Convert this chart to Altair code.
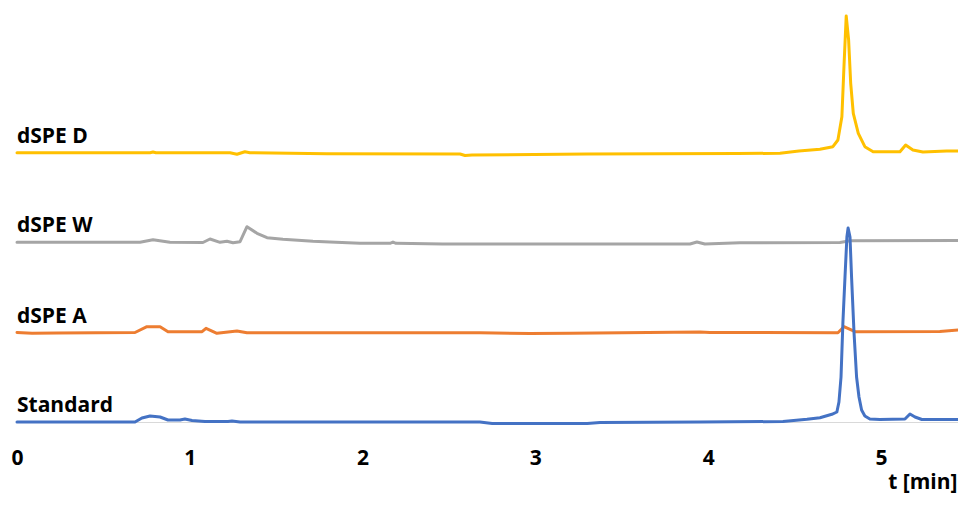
import altair as alt
import pandas as pd

series = ["Standard", "dSPE A", "dSPE W", "dSPE D"]
colors = ["#4472C4", "#ED7D31", "#A5A5A5", "#FFC000"]
x_ticks = [0, 1, 2, 3, 4, 5]
label_y = [10, 98.7, 190.3, 278.7]

std_t = [0, 0.683, 0.723, 0.770, 0.828, 0.874, 0.943, 0.972, 1.013, 1.088, 1.221, 1.244, 1.291,
         2.679, 2.750, 3.300, 3.374, 3.953, 4.433, 4.572, 4.647, 4.716, 4.745, 4.757, 4.769, 4.780,
         4.792, 4.803, 4.810, 4.821, 4.830, 4.844, 4.859, 4.873, 4.888, 4.907, 4.936, 4.994,
         5.139, 5.168, 5.197, 5.237, 5.486]
std_y = [0, 0, 4, 6, 5, 2, 2, 3, 1.5, 0.5, 0.5, 1, 0,
         0, -1.5, -1.5, -0.5, 0, 0.5, 2.7, 4.3, 7.7, 10, 20, 45, 100,
         145, 185, 194, 185, 145, 90, 45, 25, 12, 6, 3, 2.5,
         3, 8, 5, 2.5, 2.5]

a_t = [0, 0.087, 0.231, 0.683, 0.752, 0.828, 0.874, 1.071, 1.094, 1.157, 1.273, 1.331,
       2.679, 2.969, 3.200, 3.953, 4.010, 4.751, 4.786, 4.850, 5.341, 5.486]
a_y = [89.5, 88.8, 89, 89.5, 95.3, 95.3, 90.3, 90.3, 93.7, 88.7, 91, 89.3,
       89.3, 88.5, 88.8, 90, 89.5, 89.3, 95.3, 90.3, 90.5, 92.7]

w_t = [0, 0.712, 0.787, 0.885, 1.076, 1.117, 1.175, 1.215, 1.250, 1.291, 1.331, 1.389, 1.447,
       1.539, 1.713, 1.811, 1.985, 2.159, 2.176, 2.193, 2.465, 3.895, 3.935, 3.981, 4.184,
       4.763, 4.821, 5.486]
w_y = [179.7, 179.7, 182.3, 179.7, 179.5, 183, 179.7, 180.7, 179.3, 180.3, 195.3, 188.7, 184.3,
       182.7, 180.7, 180, 178.7, 178.7, 180, 178.7, 178, 178, 180, 178, 179.3,
       179.5, 181.3, 181.5]

d_t = [0, 0.770, 0.787, 0.804, 1.233, 1.273, 1.319, 1.348, 1.794, 2.564, 2.593, 2.633, 3.299,
       4.167, 4.416, 4.525, 4.647, 4.722, 4.751, 4.774, 4.786, 4.799, 4.813, 4.825, 4.840,
       4.869, 4.907, 4.955, 5.110, 5.143, 5.185, 5.243, 5.380, 5.486]
d_y = [269.3, 269.3, 270, 269.3, 269.3, 267.7, 270.3, 269.3, 268.3, 268, 266.5, 267, 268,
       268.5, 268.7, 271, 272.7, 275.3, 282, 305.3, 355.3, 406, 382, 338.7, 308.7,
       288.7, 275.3, 270.3, 270.3, 277, 272, 270, 271, 271]

rows = []
for name, ts, ys in zip(series, [std_t, a_t, w_t, d_t], [std_y, a_y, w_y, d_y]):
    for i, (t, y) in enumerate(zip(ts, ys)):
        rows.append({"series": name, "t": t, "y": y, "i": i})
df = pd.DataFrame(rows)
labels = pd.DataFrame({"series": series, "t": [0] * 4, "y": label_y})

FONT = "Open Sans"
xscale = alt.Scale(domain=[0, 5.446], nice=False, zero=False)
yscale = alt.Scale(domain=[0, 414], nice=False, zero=False)
cscale = alt.Scale(domain=series, range=colors)

xaxis = alt.Axis(
    values=x_ticks, title="t [min]", grid=False, ticks=False, tickSize=0,
    labelFont=FONT, labelFontSize=21, labelFontWeight="bold", labelColor="black",
    labelPadding=25, labelFlush=False,
    domainColor="#d9d9d9", domainWidth=1,
    titleFont=FONT, titleFontSize=21, titleFontWeight="bold", titleColor="black",
    titleAlign="right", titleBaseline="alphabetic", titleX=940, titleY=66, titleAngle=0,
)

base = alt.Chart(df)
layers = []
for name in ["dSPE D", "dSPE W", "dSPE A", "Standard"]:
    layers.append(
        base.transform_filter(alt.datum.series == name)
        .mark_line(strokeWidth=3, interpolate="linear", strokeJoin="round", strokeCap="round")
        .encode(
            x=alt.X("t:Q", scale=xscale, axis=xaxis),
            y=alt.Y("y:Q", scale=yscale, axis=None),
            color=alt.Color("series:N", scale=cscale, legend=None),
            order="i:Q",
        )
    )

text = alt.Chart(labels).mark_text(
    align="left", baseline="alphabetic", font=FONT, fontSize=21, fontWeight="bold", color="black"
).encode(
    x=alt.X("t:Q", scale=xscale, axis=xaxis),
    y=alt.Y("y:Q", scale=yscale, axis=None),
    text="series:N",
)

chart = alt.layer(*layers, text).properties(
    width=941, height=414,
    autosize=alt.AutoSizeParams(type="none"),
    padding={"left": 9, "top": 0, "right": 0, "bottom": 72},
    background="white",
).configure_view(stroke=None)

chart.save("out.html", embed_options={"renderer": "svg", "actions": False})
